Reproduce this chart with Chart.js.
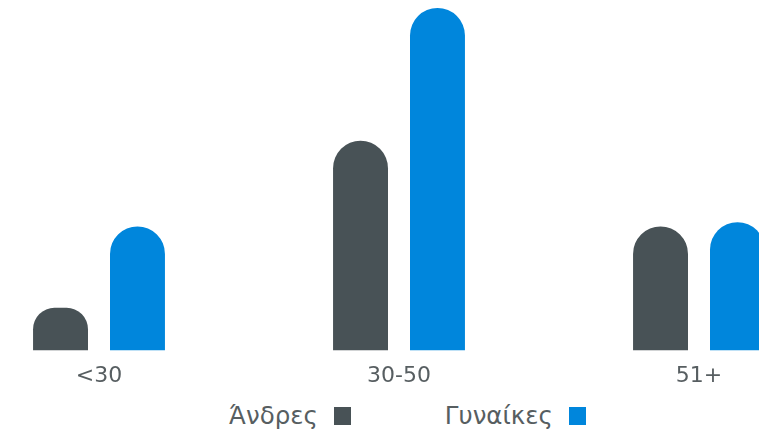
<!DOCTYPE html>
<html>
<head>
<meta charset="utf-8">
<script src="https://cdn.jsdelivr.net/npm/chart.js@4/dist/chart.umd.min.js"></script>
<style>
    html, body { margin: 0; padding: 0; background: #fff; }
    #wrap { position: relative; width: 759px; height: 432px; overflow: hidden; }
    #box { position: absolute; left: -51px; top: 0; width: 900px; height: 401px; }
    #legend { position: absolute; left: 229px; top: 401px; display: flex; align-items: center;
              font-family: "DejaVu Sans", sans-serif; font-size: 24.5px; color: #575e61; }
    .item { display: flex; align-items: center; margin-right: 94px; }
    .swatch { width: 17px; height: 18px; margin-left: 16px; }
</style>
</head>
<body>
<div id="wrap">
    <div id="box"><canvas id="ageChart"></canvas></div>
    <div id="legend"></div>
</div>
<script>
const categories = ['<30', '30-50', '51+'];
const seriesNames = ['Άνδρες', 'Γυναίκες'];
const men = [10, 49, 29];
const women = [29, 80, 30];
const colors = ['#485256', '#0086dc'];

document.addEventListener('DOMContentLoaded', function() {
    const ctx = document.getElementById('ageChart').getContext('2d');
    const ageChart = new Chart(ctx, {
        type: 'bar',
        data: {
            labels: categories,
            datasets: [men, women].map((values, i) => ({
                label: seriesNames[i],
                data: values,
                backgroundColor: colors[i],
                borderSkipped: 'bottom',
                borderRadius: { topLeft: 28, topRight: 28 },
                categoryPercentage: 0.513,
                barPercentage: 0.714
            }))
        },
        options: {
            responsive: true,
            maintainAspectRatio: false,
            animation: false,
            layout: { padding: { top: 8, left: 0, right: 0, bottom: 0 } },
            plugins: {
                legend: { display: false },
                tooltip: { enabled: false }
            },
            scales: {
                x: {
                    grid: { display: false, drawTicks: false },
                    border: { display: false },
                    ticks: {
                        color: '#575e61',
                        padding: 12,
                        font: { family: 'DejaVu Sans', size: 22 }
                    }
                },
                y: {
                    display: false,
                    min: 0,
                    max: 80
                }
            }
        }
    });

    // legend built by hand: label first, then the colour box
    const legend = document.getElementById('legend');
    ageChart.data.datasets.forEach(ds => {
        const item = document.createElement('div');
        item.className = 'item';
        const label = document.createElement('span');
        label.textContent = ds.label;
        const swatch = document.createElement('span');
        swatch.className = 'swatch';
        swatch.style.background = ds.backgroundColor;
        item.appendChild(label);
        item.appendChild(swatch);
        legend.appendChild(item);
    });
});
</script>
</body>
</html>
